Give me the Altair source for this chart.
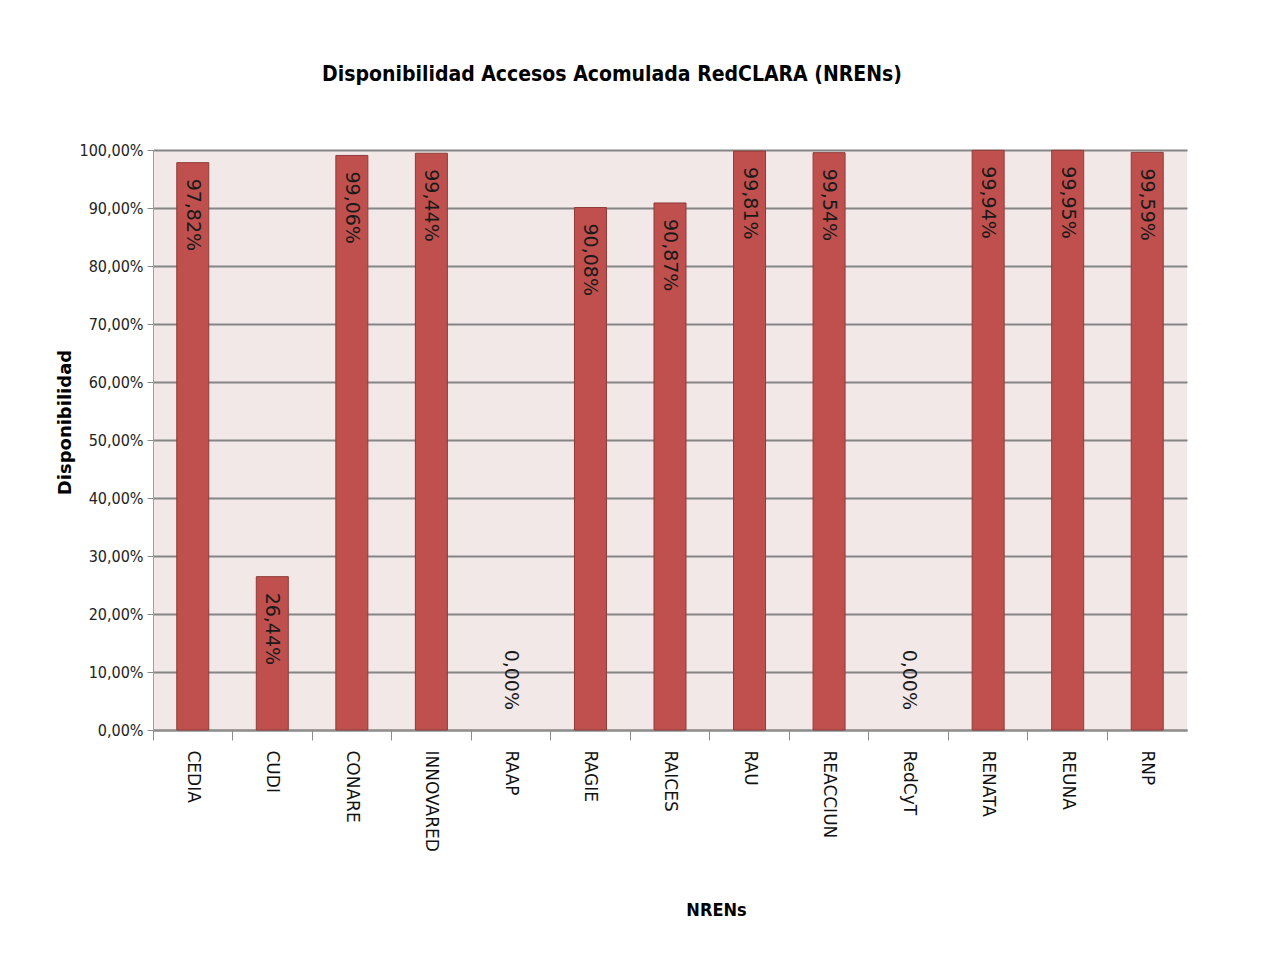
import altair as alt
import pandas as pd

nrens = ["CEDIA", "CUDI", "CONARE", "INNOVARED", "RAAP", "RAGIE", "RAICES",
         "RAU", "REACCIUN", "RedCyT", "RENATA", "REUNA", "RNP"]
disponibilidad = [97.82, 26.44, 99.06, 99.44, 0.00, 90.08, 90.87,
                  99.81, 99.54, 0.00, 99.94, 99.95, 99.59]
y_ticks = [0, 10, 20, 30, 40, 50, 60, 70, 80, 90, 100]

df = pd.DataFrame({"nren": nrens, "v": disponibilidad})

NARROW = "DejaVu Sans Condensed, Liberation Sans Narrow, Arial Narrow, sans-serif"
label_expr = "replace(format(datum.v, '.2f'), '.', ',') + '%'"

x_enc = alt.X(
    "nren:N", sort=nrens,
    scale=alt.Scale(paddingInner=0, paddingOuter=0),
    axis=alt.Axis(
        title="NRENs", labelAngle=90, labelAlign="left", labelBaseline="middle",
        labelFont="DejaVu Sans", labelFontSize=17, labelColor="#111111",
        labelPadding=10, tickSize=10, tickColor="#8c8c8c", tickWidth=1,
        bandPosition=0,
        domainColor="#8c8c8c", domainWidth=2, grid=False,
        titleFont=NARROW, titleFontWeight="bold", titleFontSize=18,
        titleColor="#000000", titleX=563, titleY=180, titleAlign="center",
        titleBaseline="middle",
    ),
)
y_enc = alt.Y(
    "v:Q",
    scale=alt.Scale(domain=[0, 100], nice=False),
    axis=alt.Axis(
        title="Disponibilidad", values=y_ticks,
        labelExpr="replace(format(datum.value, '.2f'), '.', ',') + '%'",
        labelFont=NARROW, labelFontSize=16, labelColor="#222222",
        labelPadding=4, tickSize=6, tickColor="#8c8c8c",
        domainColor="#a0a0a0", domainWidth=1,
        grid=True, gridColor="#858585", gridWidth=2,
        titleFont="DejaVu Sans", titleFontWeight="bold", titleFontSize=18,
        titleColor="#000000", titleX=-88, titleY=272, titleAngle=-90,
        titleAlign="center", titleBaseline="middle",
    ),
)

base = alt.Chart(df)

bars = base.transform_filter("datum.v > 0").mark_bar(
    size=32, color="#C0504D", stroke="#8E3B39", strokeWidth=1
).encode(x=x_enc, y=y_enc)

labels = base.transform_filter("datum.v > 0").transform_calculate(
    lab=label_expr
).mark_text(
    angle=90, align="left", baseline="middle", dx=16,
    font="DejaVu Sans", fontSize=19, color="#1a1a1a",
).encode(x=alt.X("nren:N", sort=nrens), y="v:Q", text="lab:N")

zero_labels = base.transform_filter("datum.v <= 0").transform_calculate(
    lab=label_expr
).mark_text(
    angle=90, align="right", baseline="middle", dx=-20,
    font="DejaVu Sans", fontSize=19, color="#1a1a1a",
).encode(x=alt.X("nren:N", sort=nrens), y="v:Q", text="lab:N")

chart = alt.layer(bars, labels, zero_labels).properties(
    width=1034, height=580,
    autosize=alt.AutoSizeParams(type="none"),
    padding={"left": 145, "top": 142, "right": 75, "bottom": 218},
    background="#ffffff",
    title=alt.TitleParams(
        "Disponibilidad  Accesos Acomulada RedCLARA (NRENs)",
        font=NARROW, fontWeight="bold", fontSize=21,
        color="#000000", anchor="middle", dx=-58, offset=40,
        baseline="alphabetic",
    ),
).configure_view(fill="#F2E8E8", stroke=None)

chart.save("out.html", embed_options={"renderer": "svg", "actions": False})
